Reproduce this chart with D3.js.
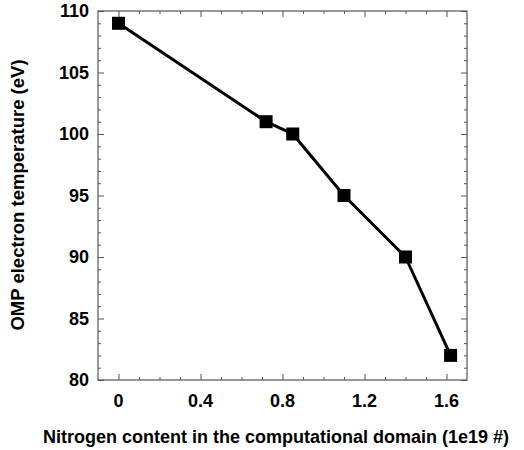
<!DOCTYPE html>
<html>
<script src="https://d3js.org/d3.v7.min.js"></script>
<style>
    body { margin: 0; background: #fff; }
    text { font-family: "Liberation Sans", Arial, sans-serif; font-weight: bold; fill: #000; }
</style>
<body>
<svg id="chart" width="524" height="450"></svg>
<script>
// data
var nitrogen = [0, 0.72, 0.85, 1.1, 1.4, 1.62];
var tempEV = [109, 101, 100, 95, 90, 82];
var xTicks = [0, 0.4, 0.8, 1.2, 1.6];
var yTicks = [80, 85, 90, 95, 100, 105, 110];

var plotL = 98, plotR = 467, plotT = 11, plotB = 380;

var svg = d3.select("#chart");

var x = d3.scaleLinear().domain([-0.1, 1.7]).range([plotL, plotR]);
var y = d3.scaleLinear().domain([80, 110]).range([plotB, plotT]);

var xMinor = d3.range(0, 17).map(function(i) { return i / 10; }).filter(function(v) { return xTicks.indexOf(v) < 0; });
var yMinor = d3.range(81, 110).filter(function(v) { return v % 5 !== 0; });

// ticks, all pointing inwards on four sides
var tickStyle = function(sel) { sel.selectAll("line").attr("stroke", "#555"); sel.select(".domain").remove(); };

svg.append("g").attr("transform", "translate(0," + plotB + ")")
    .call(d3.axisTop(x).tickValues(xTicks).tickSize(6).tickFormat(""))
    .call(tickStyle);
svg.append("g").attr("transform", "translate(0," + plotB + ")")
    .call(d3.axisTop(x).tickValues(xMinor).tickSize(3).tickFormat(""))
    .call(tickStyle);
svg.append("g").attr("transform", "translate(0," + plotT + ")")
    .call(d3.axisBottom(x).tickValues(xTicks).tickSize(6).tickFormat(""))
    .call(tickStyle);
svg.append("g").attr("transform", "translate(0," + plotT + ")")
    .call(d3.axisBottom(x).tickValues(xMinor).tickSize(3).tickFormat(""))
    .call(tickStyle);
svg.append("g").attr("transform", "translate(" + plotL + ",0)")
    .call(d3.axisRight(y).tickValues(yTicks).tickSize(6).tickFormat(""))
    .call(tickStyle);
svg.append("g").attr("transform", "translate(" + plotL + ",0)")
    .call(d3.axisRight(y).tickValues(yMinor).tickSize(3).tickFormat(""))
    .call(tickStyle);
svg.append("g").attr("transform", "translate(" + plotR + ",0)")
    .call(d3.axisLeft(y).tickValues(yTicks).tickSize(6).tickFormat(""))
    .call(tickStyle);
svg.append("g").attr("transform", "translate(" + plotR + ",0)")
    .call(d3.axisLeft(y).tickValues(yMinor).tickSize(3).tickFormat(""))
    .call(tickStyle);

// frame
svg.append("rect")
    .attr("x", plotL).attr("y", plotT)
    .attr("width", plotR - plotL).attr("height", plotB - plotT)
    .attr("fill", "none").attr("stroke", "#555").attr("stroke-width", 1.2);

// tick labels
svg.selectAll(".xl").data(xTicks).enter().append("text")
    .attr("x", function(d) { return x(d); })
    .attr("y", plotB + 27)
    .attr("text-anchor", "middle")
    .style("font-size", "18px")
    .text(function(d) { return d; });

svg.selectAll(".yl").data(yTicks).enter().append("text")
    .attr("x", plotL - 9)
    .attr("y", function(d) { return y(d); })
    .attr("dy", "0.36em")
    .attr("text-anchor", "end")
    .style("font-size", "18px")
    .text(function(d) { return d; });

// axis titles
svg.append("text")
    .attr("x", 276).attr("y", 443)
    .attr("text-anchor", "middle")
    .style("font-size", "18px")
    .text("Nitrogen content in the computational domain (1e19 #)");

svg.append("text")
    .attr("transform", "translate(24,195) rotate(-90)")
    .attr("text-anchor", "middle")
    .style("font-size", "18.5px")
    .text("OMP electron temperature (eV)");

// line and markers
var pts = nitrogen.map(function(d, i) { return [d, tempEV[i]]; });
var line = d3.line().x(function(d) { return x(d[0]); }).y(function(d) { return y(d[1]); });

svg.append("path")
    .attr("d", line(pts))
    .attr("fill", "none")
    .attr("stroke", "#000")
    .attr("stroke-width", 3);

svg.selectAll(".mk").data(pts).enter().append("rect")
    .attr("x", function(d) { return x(d[0]) - 6.5; })
    .attr("y", function(d) { return y(d[1]) - 6.5; })
    .attr("width", 13).attr("height", 13)
    .attr("fill", "#000");
</script>
</body>
</html>
